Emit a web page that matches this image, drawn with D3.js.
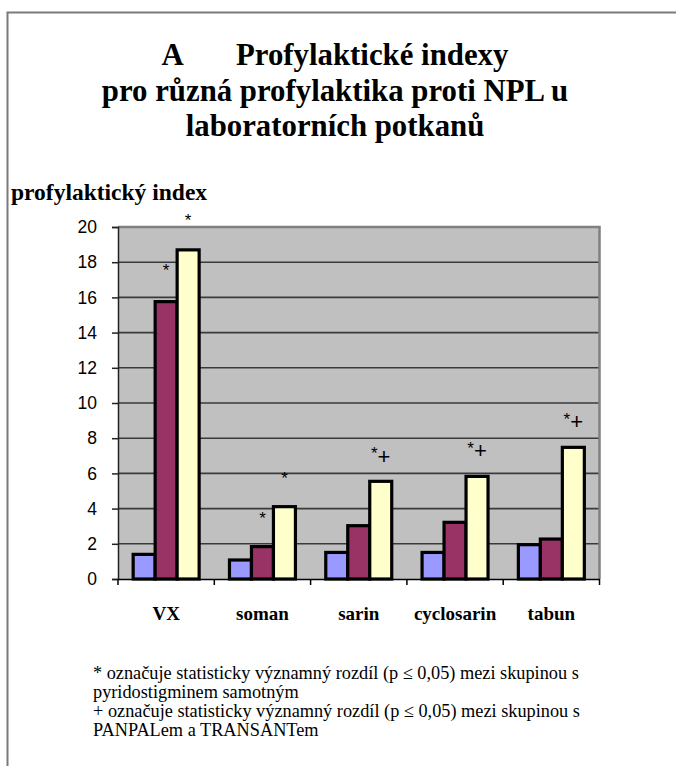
<!DOCTYPE html>
<html><head><meta charset="utf-8">
<script src="https://cdn.jsdelivr.net/npm/d3@7"></script>
<style>body{margin:0;background:#fff}svg{display:block}
.serif{font-family:"Liberation Serif","Times New Roman","DejaVu Serif",serif}
.sans{font-family:"Liberation Sans",Arial,sans-serif}
</style>
</head><body>
<script>
const categories = ["VX","soman","sarin","cyclosarin","tabun"];
const seriesNames = ["s1","s2","s3"];
const series1 = [1.40, 1.08, 1.51, 1.51, 1.95];
const series2 = [15.76, 1.84, 3.03, 3.22, 2.27];
const series3 = [18.7, 4.11, 5.55, 5.83, 7.48];
const yTicks = [0,2,4,6,8,10,12,14,16,18,20];
const titleLines = ["A       Profylaktické indexy","pro různá profylaktika proti NPL u","laboratorních potkanů"];
const yAxisTitle = "profylaktický index";
const footnotes = ["* označuje statisticky významný rozdíl (p ≤ 0,05) mezi skupinou s","pyridostigminem samotným","+ označuje statisticky významný rozdíl (p ≤ 0,05) mezi skupinou s","PANPALem a TRANSANTem"];
// significance markers: category index, series index, label, value of baseline
const markers = [
  {c:0, s:1, label:"*", v:17.2},
  {c:0, s:2, label:"*", v:20.05},
  {c:1, s:1, label:"*", v:3.13},
  {c:1, s:2, label:"*", v:5.4},
  {c:2, s:2, label:"*+", v:6.55},
  {c:3, s:2, label:"*+", v:6.85},
  {c:4, s:2, label:"*+", v:8.5}
];
const colors = ["#9999FF","#993366","#FFFFCC"];

const W=676,H=766;
const svg=d3.select("body").append("svg").attr("width",W).attr("height",H);

svg.append("path").attr("d",`M7.5,${H} V12.5 H${W}`).attr("fill","none").attr("stroke","#7a7a7a").attr("stroke-width",2);

const tt=svg.append("text").attr("class","serif").style("font-weight","bold").style("font-size","30.8px").attr("text-anchor","middle").attr("fill","#000");
titleLines.forEach((l,i)=>tt.append("tspan").attr("x",335).attr("y",65+i*35.5).style("white-space","pre").text(l));

svg.append("text").attr("class","serif").attr("x",11).attr("y",200).style("font-weight","bold").style("font-size","23.5px").text(yAxisTitle);

const L=118,R=599.5,T=227,B=579;
const y=d3.scaleLinear().domain([0,20]).range([B,T]);
const x0=d3.scaleBand().domain(categories).range([L,R]).padding(0);
const gw=x0.bandwidth()*0.685;
const x1=d3.scaleBand().domain(seriesNames).range([(x0.bandwidth()-gw)/2,(x0.bandwidth()+gw)/2]).padding(0);

svg.append("rect").attr("x",L).attr("y",T).attr("width",R-L).attr("height",B-T).attr("fill","#C0C0C0");
svg.append("g").selectAll("line").data(yTicks.filter(d=>d>0&&d<20)).join("line")
  .attr("x1",L).attr("x2",R).attr("y1",d=>y(d)).attr("y2",d=>y(d)).attr("stroke","#3a3a3a").attr("stroke-width",1.6);
svg.append("path").attr("d",`M${L},${T} H${R} V${B}`).attr("fill","none").attr("stroke","#808080").attr("stroke-width",2.5);

const data=[series1,series2,series3];
const g=svg.append("g");
categories.forEach((c,ci)=>{
  seriesNames.forEach((s,si)=>{
    const v=data[si][ci];
    g.append("rect").attr("x",x0(c)+x1(s)).attr("y",y(v)).attr("width",x1.bandwidth()).attr("height",y(0)-y(v))
      .attr("fill",colors[si]).attr("stroke","#000").attr("stroke-width",3.2);
  });
});

const ya=svg.append("g").attr("transform",`translate(${L},0)`).call(d3.axisLeft(y).tickValues(yTicks).tickSize(6).tickPadding(15));
ya.attr("font-family",null).attr("font-size",null);
ya.select(".domain").attr("stroke","#222").attr("stroke-width",1.5);
ya.selectAll(".tick line").attr("stroke","#222").attr("stroke-width",1.5);
ya.selectAll(".tick text").attr("class","sans").style("font-size","17.5px").attr("fill","#000");

const xa=svg.append("g").attr("transform",`translate(0,${B})`).call(d3.axisBottom(x0).tickSize(0).tickPadding(28));
xa.attr("font-family",null).attr("font-size",null);
xa.select(".domain").attr("stroke","#000").attr("stroke-width",1.5);
xa.selectAll(".tick text").attr("class","serif").style("font-weight","bold").style("font-size","19px").attr("fill","#000");
xa.selectAll("line.bt").data(categories.map(c=>x0(c)).concat([R])).join("line").attr("class","bt")
  .attr("x1",d=>d).attr("x2",d=>d).attr("y1",0).attr("y2",6).attr("stroke","#000").attr("stroke-width",1.5);

markers.forEach(m=>{
  const cx=x0(categories[m.c])+x1(seriesNames[m.s])+x1.bandwidth()/2;
  const t=svg.append("text").attr("class","sans").attr("x",cx).attr("y",y(m.v)).attr("text-anchor","middle").attr("fill","#000");
  if(m.label==="*"){
    t.style("font-size","17px").text("*");
  } else {
    t.append("tspan").style("font-size","17px").attr("dy",-4.7).text("*");
    t.append("tspan").style("font-size","22px").attr("dy",4.7).text("+");
  }
});

const ft=svg.append("text").attr("class","serif").style("font-size","18.3px").attr("fill","#000");
footnotes.forEach((l,i)=>ft.append("tspan").attr("x",93).attr("y",679+i*19).text(l));
</script>
</body></html>
